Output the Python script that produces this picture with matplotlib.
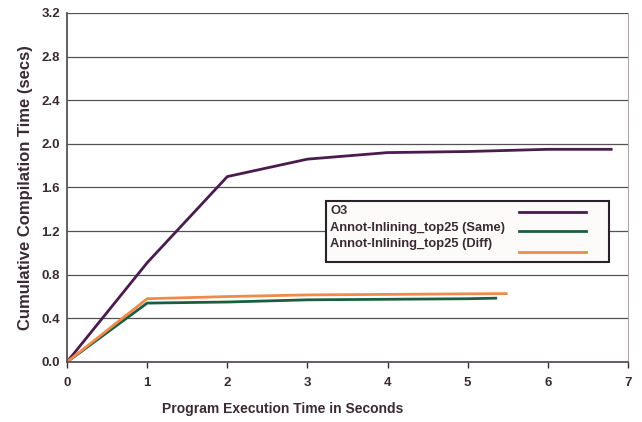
import matplotlib.pyplot as plt
from matplotlib.patches import Rectangle

plt.rcParams['font.family'] = ['Liberation Sans', 'DejaVu Sans']
plt.rcParams['font.weight'] = 'bold'

# cumulative compile time sampled along program execution time
o3_x = [0, 1, 2, 3, 4, 5, 6, 6.79]
o3_y = [0.0, 0.91, 1.70, 1.86, 1.92, 1.93, 1.95, 1.95]
same_x = [0, 1, 2, 3, 4, 5, 5.35]
same_y = [0.0, 0.54, 0.55, 0.57, 0.575, 0.58, 0.585]
diff_x = [0, 1, 2, 3, 4, 5, 5.48]
diff_y = [0.0, 0.58, 0.60, 0.615, 0.62, 0.625, 0.627]

labels = ['O3', 'Annot-Inlining_top25 (Same)', 'Annot-Inlining_top25 (Diff)']
colors = ['#4a1c4e', '#1b5e3f', '#f08a4b']
txt_color = '#3a2a33'

fig = plt.figure(figsize=(6.42, 4.22), dpi=100)
ax = fig.add_axes([0.1044, 0.1422, 0.8738, 0.8270])

ax.plot(o3_x, o3_y, color=colors[0], lw=2)
ax.plot(same_x, same_y, color=colors[1], lw=2)
ax.plot(diff_x, diff_y, color=colors[2], lw=2)

ax.set_xlim(0, 7)
ax.set_ylim(0, 3.2)
ax.set_xticks(range(8))
ax.set_yticks([i * 0.4 for i in range(9)])
ax.set_yticklabels([f'{i * 0.4:.1f}' for i in range(9)])
ax.tick_params(axis='both', labelsize=9.5, colors=txt_color, length=4, width=1)
ax.tick_params(axis='y', length=0, pad=5)
ax.tick_params(axis='x', direction='out', pad=7)
for t in ax.get_xticklabels() + ax.get_yticklabels():
    t.set_fontweight('bold')

ax.grid(axis='y', color='#555055', lw=0.9)
ax.set_axisbelow(True)
for s in ['left', 'bottom']:
    ax.spines[s].set_color('#5a5058')
    ax.spines[s].set_linewidth(1.3)
ax.spines['top'].set_visible(False)
ax.spines['right'].set_color('#b0a8ac')

ax.set_xlabel('Program Execution Time in Seconds', fontsize=10, fontweight='bold',
              color=txt_color)
ax.xaxis.set_label_coords(0.385, -0.115)
ax.set_ylabel('Cumulative Compilation Time (secs)', fontsize=12, fontweight='bold',
              color=txt_color, labelpad=6)

# hand-built legend box: labels on the left, line samples on the right
ax.add_patch(Rectangle((0.4617, 0.2865), 0.5044, 0.1748, transform=ax.transAxes,
                       facecolor='#fdfbfa', edgecolor='#2a2228', lw=1.5, zorder=5))
text_y = [0.4327, 0.3849, 0.3390]
line_y = [0.4307, 0.3754, 0.3147]
for lab, col, ty, ly in zip(labels, colors, text_y, line_y):
    ax.text(0.4688, ty, lab, transform=ax.transAxes, fontsize=9.3, fontweight='bold',
            color=txt_color, va='center', ha='left', zorder=6)
    ax.plot([0.8057, 0.9251], [ly, ly], transform=ax.transAxes, color=col, lw=2,
            zorder=6, clip_on=False)

fig.savefig('out.png', dpi=100)
